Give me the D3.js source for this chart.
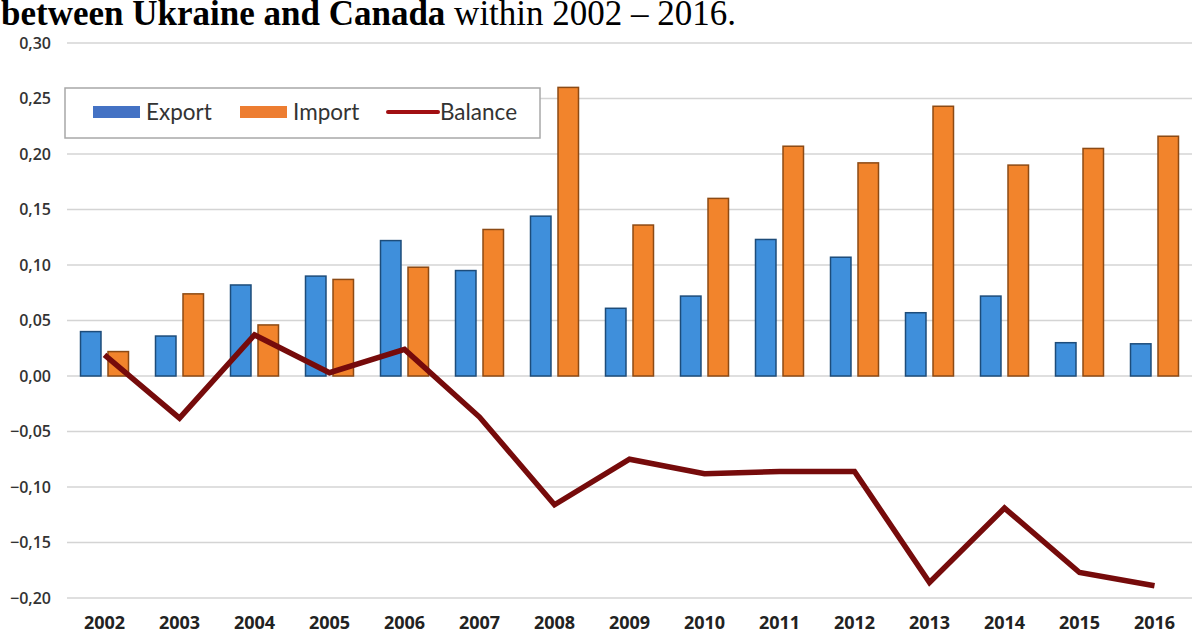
<!DOCTYPE html>
<html><head><meta charset="utf-8">
<script src="https://cdn.jsdelivr.net/npm/d3@7"></script>
<style>body{margin:0;background:#fff}svg{display:block}</style>
</head><body>
<svg id="c" width="1195" height="639"></svg>
<script>
const years = ["2002","2003","2004","2005","2006","2007","2008","2009","2010","2011","2012","2013","2014","2015","2016"];
const exportVals = [0.040,0.036,0.082,0.090,0.122,0.095,0.144,0.061,0.072,0.123,0.107,0.057,0.072,0.030,0.029];
const importVals = [0.022,0.074,0.046,0.087,0.098,0.132,0.260,0.136,0.160,0.207,0.192,0.243,0.190,0.205,0.216];
const balanceVals = [0.019,-0.038,0.037,0.003,0.024,-0.037,-0.116,-0.075,-0.088,-0.086,-0.086,-0.186,-0.119,-0.177,-0.189];
const yTicks = [-0.20,-0.15,-0.10,-0.05,0.00,0.05,0.10,0.15,0.20,0.25,0.30];
const seriesNames = ["Export","Import","Balance"];
const titleBold = "between Ukraine and Canada";
const titleRest = " within 2002 – 2016.";

const svg = d3.select("#c");
const x = d3.scaleBand().domain(years).range([67,1192]).padding(0);
const xi = d3.scaleBand().domain(["Export","Import"]).range([13.5,61.5]).paddingInner(0.255);
const y = d3.scaleLinear().domain([-0.2,0.3]).range([598,43]);
const fmt = v => d3.format(".2f")(v).replace(".",",");

// title
const t = svg.append("text").attr("x",1).attr("y",25)
  .attr("font-family","'Liberation Serif', 'Times New Roman', serif").attr("font-size",35).attr("fill","#000");
t.append("tspan").attr("font-weight","bold").text(titleBold);
t.append("tspan").text(titleRest);

// grid
svg.append("g").selectAll("line").data(yTicks).join("line")
  .attr("x1",67).attr("x2",1192).attr("y1",d=>y(d)).attr("y2",d=>y(d))
  .attr("stroke","#d4d4d4").attr("stroke-width",1.5);

// y axis labels
const yAxis = d3.axisLeft(y).tickValues(yTicks).tickFormat(fmt).tickSize(0).tickPadding(0);
const gy = svg.append("g").attr("transform","translate(51,0)").call(yAxis);
gy.select(".domain").remove();
gy.selectAll("text").attr("font-family","'Open Sans', sans-serif").attr("font-size",16)
  .attr("font-weight",600).attr("fill","#333");

// x axis labels
const xAxis = d3.axisBottom(x).tickSize(0).tickPadding(0);
const gx = svg.append("g").attr("transform","translate(0,616)").call(xAxis);
gx.select(".domain").remove();
gx.selectAll("text").attr("font-family","'Open Sans', sans-serif").attr("font-size",18)
  .attr("font-weight",700).attr("fill","#222");

// bars
const rows = years.map((yr,i)=>({yr, Export:exportVals[i], Import:importVals[i], Balance:balanceVals[i]}));
const barStyle = {Export:{fill:"#3f8fdb",stroke:"#1d4c7a"}, Import:{fill:"#f2842c",stroke:"#8c4a14"}};
["Export","Import"].forEach(s=>{
  svg.append("g").selectAll("rect").data(rows).join("rect")
    .attr("x",d=>x(d.yr)+xi(s)).attr("width",xi.bandwidth())
    .attr("y",d=>y(Math.max(0,d[s]))).attr("height",d=>Math.abs(y(d[s])-y(0)))
    .attr("fill",barStyle[s].fill).attr("stroke",barStyle[s].stroke).attr("stroke-width",1.5);
});

// balance line
const line = d3.line().x(d=>x(d.yr)+x.bandwidth()/2).y(d=>y(d.Balance));
svg.append("path").datum(rows).attr("d",line).attr("fill","none")
  .attr("stroke","#760b0b").attr("stroke-width",5.5).attr("stroke-linejoin","miter");

// legend
const lg = svg.append("g");
lg.append("rect").attr("x",65).attr("y",88).attr("width",475).attr("height",50)
  .attr("fill","#fff").attr("stroke","#a8a8a8").attr("stroke-width",1.5);
const legItems = [
  {name:seriesNames[0], x:93, color:"#4472c4", type:"rect"},
  {name:seriesNames[1], x:240, color:"#ed7d31", type:"rect"},
  {name:seriesNames[2], x:388, color:"#a10f12", type:"line"}
];
legItems.forEach(it=>{
  if(it.type==="rect") lg.append("rect").attr("x",it.x).attr("y",106).attr("width",47).attr("height",12).attr("fill",it.color);
  else lg.append("line").attr("x1",it.x).attr("x2",it.x+50).attr("y1",112).attr("y2",112).attr("stroke",it.color).attr("stroke-width",4).attr("stroke-linecap","round");
  lg.append("text").attr("x",it.x+(it.type==="rect"?53:52)).attr("y",120)
    .attr("font-family","Lato, sans-serif").attr("font-size",22.5).attr("fill","#333").text(it.name);
});
</script>
</body></html>
